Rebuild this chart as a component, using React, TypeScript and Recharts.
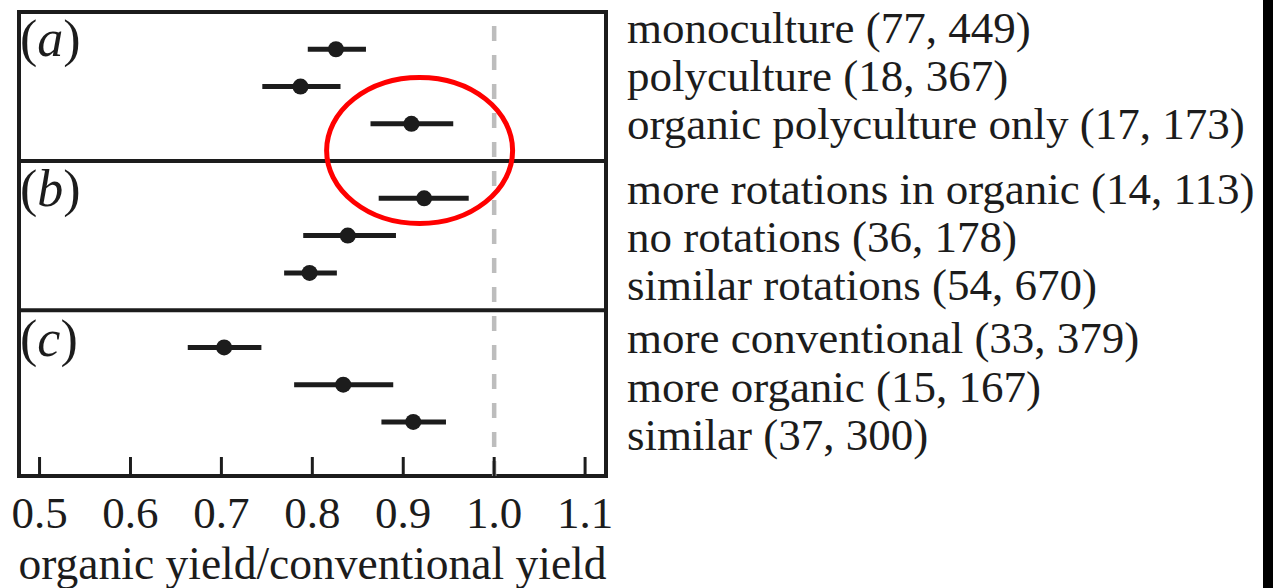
import React from 'react';
import { ScatterChart, Scatter, XAxis, YAxis, ErrorBar, ReferenceLine, ReferenceArea, ReferenceDot } from 'recharts';

const panelLetters = ['a', 'b', 'c'];
const categories = [
  'monoculture',
  'polyculture',
  'organic polyculture only',
  'more rotations in organic',
  'no rotations',
  'similar rotations',
  'more conventional',
  'more organic',
  'similar',
];
const studies = [77, 18, 17, 14, 36, 54, 33, 15, 37];
const observations = [449, 367, 173, 113, 178, 670, 379, 167, 300];
const means = [0.826, 0.787, 0.909, 0.923, 0.839, 0.797, 0.703, 0.834, 0.911];
const lower = [0.795, 0.745, 0.864, 0.873, 0.79, 0.769, 0.663, 0.78, 0.876];
const upper = [0.859, 0.831, 0.955, 0.972, 0.892, 0.827, 0.744, 0.889, 0.947];
const xTicks = [0.5, 0.6, 0.7, 0.8, 0.9, 1.0, 1.1];

const FONT = '"Liberation Serif", "Times New Roman", serif';
const INK = '#1c1c1c';
const X_DOMAIN: [number, number] = [0.4774, 1.123];
const Y_DOMAIN: [number, number] = [0, 12.45];

// three rows per panel, panels 4 slots apart
const rows = means.map((m, i) => ({
  name: categories[i],
  ratio: m,
  slot: Math.floor(i / 3) * 4 + (i % 3) + 1,
  ci: [m - lower[i], upper[i] - m],
}));

const labelBaselines = [43, 91, 139, 204, 252, 300, 353, 402, 450];
const letterBaselines = [56, 206, 356];

const AxisTick = (props: any) => {
  const { x, y, payload } = props;
  return (
    <g>
      <line x1={x} x2={x} y1={y} y2={y - 19} stroke={INK} strokeWidth={3} />
      <text x={x} y={y + 52} textAnchor="middle" fontSize={45} fill={INK} fontFamily={FONT}>
        {Number(payload.value).toFixed(1)}
      </text>
    </g>
  );
};

const Dot = (props: any) => <circle cx={props.cx} cy={props.cy} r={8} fill={INK} />;

const Ellipse = (props: any) => (
  <ellipse cx={props.cx} cy={props.cy} rx={93} ry={73} fill="none" stroke="#ff0000" strokeWidth={5} />
);

export default function App() {
  return (
    <div style={{ position: 'absolute', left: 0, top: 0, width: 1273, height: 588, background: '#fff' }}>
      <ScatterChart width={640} height={588} margin={{ top: 12, right: 34, bottom: 0, left: 19 }}>
        <XAxis
          type="number"
          dataKey="ratio"
          domain={X_DOMAIN}
          ticks={xTicks}
          allowDataOverflow
          height={112}
          tickSize={0}
          tickMargin={0}
          tickLine={false}
          axisLine={false}
          tick={<AxisTick />}
          interval={0}
          label={{
            value: 'organic yield/conventional yield',
            position: 'insideBottom',
            offset: 9,
            fontSize: 45.5,
            fill: INK,
            fontFamily: FONT,
          }}
        />
        <YAxis type="number" dataKey="slot" domain={Y_DOMAIN} reversed hide width={0} allowDataOverflow />
        <ReferenceLine x={1.0} stroke="#bdbdbd" strokeWidth={4.5} strokeDasharray="15 14" />
        <ReferenceArea
          x1={X_DOMAIN[0]}
          x2={X_DOMAIN[1]}
          y1={Y_DOMAIN[0]}
          y2={Y_DOMAIN[1]}
          fill="none"
          fillOpacity={0}
          stroke={INK}
          strokeWidth={4}
          strokeOpacity={1}
        />
        <ReferenceLine y={4} stroke={INK} strokeWidth={4} />
        <ReferenceLine y={8} stroke={INK} strokeWidth={4} />
        <Scatter data={rows} shape={<Dot />} isAnimationActive={false}>
          <ErrorBar dataKey="ci" direction="x" width={0} stroke={INK} strokeWidth={5} />
        </Scatter>
        <ReferenceDot x={0.918} y={3.716} shape={<Ellipse />} />
      </ScatterChart>
      <svg
        width={1273}
        height={588}
        style={{ position: 'absolute', left: 0, top: 0, pointerEvents: 'none' }}
        fontFamily={FONT}
        fontSize={45}
        fill={INK}
      >
        {panelLetters.map((l, i) => (
          <text key={l} x={20} y={letterBaselines[i]} fontSize={52}>
            (<tspan fontStyle="italic">{l}</tspan>)
          </text>
        ))}
        {categories.map((c, i) => (
          <text key={c} x={627} y={labelBaselines[i]}>
            {`${c} (${studies[i]}, ${observations[i]})`}
          </text>
        ))}
      </svg>
      <div style={{ position: 'absolute', left: 1263, top: 0, width: 10, height: 588, background: '#000' }} />
    </div>
  );
}
